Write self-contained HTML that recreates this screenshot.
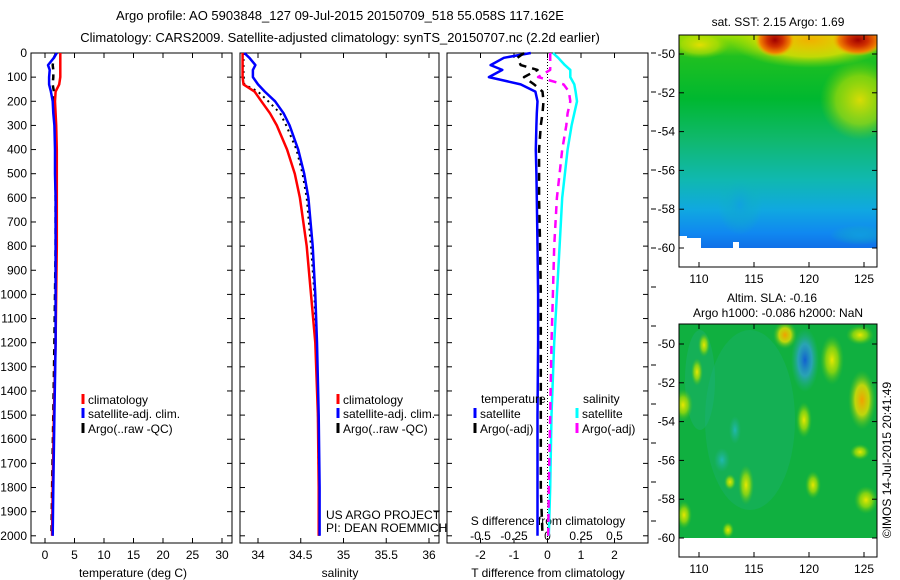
<!DOCTYPE html>
<html><head><meta charset="utf-8"><style>
body{margin:0;background:#fff}
svg{display:block;font-family:"Liberation Sans",sans-serif}
text{font-size:12px;fill:#000}
</style></head><body>
<svg id="c" width="900" height="580" viewBox="0 0 900 580" xmlns="http://www.w3.org/2000/svg">
<defs>
<linearGradient id="sstBase" x1="0" y1="0" x2="0" y2="1">
<stop offset="0" stop-color="#a0e000"/><stop offset="0.1" stop-color="#20c020"/><stop offset="0.3" stop-color="#00b830"/><stop offset="0.5" stop-color="#10b870"/><stop offset="0.68" stop-color="#10b8b0"/><stop offset="0.82" stop-color="#10a8e0"/><stop offset="0.93" stop-color="#1088f0"/><stop offset="1" stop-color="#1070e8"/></linearGradient>
<radialGradient id="hotA"><stop offset="0" stop-color="#a00000"/><stop offset="0.4" stop-color="#d03000"/><stop offset="0.75" stop-color="#f08000"/><stop offset="1" stop-color="#f0c000" stop-opacity="0"/></radialGradient>
<radialGradient id="yel"><stop offset="0" stop-color="#e8e800"/><stop offset="0.5" stop-color="#b0e000" stop-opacity="0.7"/><stop offset="1" stop-color="#40c020" stop-opacity="0"/></radialGradient>
<radialGradient id="org"><stop offset="0" stop-color="#f0a000"/><stop offset="0.5" stop-color="#e8e000" stop-opacity="0.8"/><stop offset="1" stop-color="#40c020" stop-opacity="0"/></radialGradient>
<radialGradient id="blu"><stop offset="0" stop-color="#1060d0"/><stop offset="0.5" stop-color="#30a0d0" stop-opacity="0.8"/><stop offset="1" stop-color="#20b090" stop-opacity="0"/></radialGradient>
<radialGradient id="teal"><stop offset="0" stop-color="#20b8b0"/><stop offset="1" stop-color="#20b090" stop-opacity="0"/></radialGradient>
<radialGradient id="cyanblob"><stop offset="0" stop-color="#10a0e0" stop-opacity="0.8"/><stop offset="1" stop-color="#10b8b0" stop-opacity="0"/></radialGradient>
<radialGradient id="yblob"><stop offset="0" stop-color="#f0e000" stop-opacity="0.9"/><stop offset="0.6" stop-color="#c0e000" stop-opacity="0.6"/><stop offset="1" stop-color="#80d000" stop-opacity="0"/></radialGradient>
<radialGradient id="oblob"><stop offset="0" stop-color="#f0b000"/><stop offset="0.6" stop-color="#e8e000" stop-opacity="0.8"/><stop offset="1" stop-color="#a0e000" stop-opacity="0"/></radialGradient>
<clipPath id="clipTop"><rect x="679" y="35" width="198" height="232"/></clipPath>
<clipPath id="clipBot"><rect x="679" y="324" width="198" height="233"/></clipPath>
</defs>
<text x="340" y="20" text-anchor="middle" style="font-size:13px">Argo profile: AO 5903848_127 09-Jul-2015 20150709_518 55.058S 117.162E</text>
<text x="340" y="42" text-anchor="middle" style="font-size:13px">Climatology: CARS2009. Satellite-adjusted climatology: synTS_20150707.nc (2.2d earlier)</text>

<g>
<g clip-path="url(#clipTop)">
<rect x="679" y="35" width="198" height="213" fill="url(#sstBase)"/>
<ellipse cx="860" cy="100" rx="40" ry="40" fill="url(#yblob)"/>
<ellipse cx="810" cy="40" rx="80" ry="28" fill="url(#oblob)"/>
<ellipse cx="775" cy="40" rx="20" ry="17" fill="url(#hotA)"/>
<ellipse cx="858" cy="40" rx="26" ry="16" fill="url(#hotA)"/>
<ellipse cx="700" cy="45" rx="30" ry="14" fill="url(#yblob)"/>
<ellipse cx="740" cy="205" rx="22" ry="30" fill="url(#cyanblob)"/>
<ellipse cx="860" cy="235" rx="30" ry="10" fill="url(#cyanblob)"/>
<rect x="679" y="248" width="198" height="19" fill="#fff"/>
<rect x="679" y="236" width="8" height="12" fill="#fff"/>
<rect x="687" y="238" width="14" height="10" fill="#fff"/>
<rect x="733" y="242" width="6" height="6" fill="#fff"/>
</g>
<rect x="679" y="35" width="198" height="232" fill="none" stroke="#000"/>
</g>
<text x="778" y="26" text-anchor="middle">sat. SST: 2.15 Argo: 1.69</text>

<g>
<g clip-path="url(#clipBot)">
<rect x="679" y="324" width="198" height="214" fill="#10b040"/>
<ellipse cx="750" cy="420" rx="45" ry="90" fill="#20b090" opacity="0.25"/>
<ellipse cx="700" cy="380" rx="15" ry="50" fill="#20b090" opacity="0.3"/>
<ellipse cx="735" cy="430" rx="6" ry="14" fill="url(#teal)"/>
<ellipse cx="722" cy="460" rx="8" ry="12" fill="url(#teal)"/>
<ellipse cx="805" cy="360" rx="14" ry="32" fill="url(#blu)"/>
<ellipse cx="785" cy="335" rx="12" ry="14" fill="url(#org)"/>
<ellipse cx="862" cy="400" rx="14" ry="30" fill="url(#org)"/>
<ellipse cx="832" cy="360" rx="12" ry="25" fill="url(#yel)"/>
<ellipse cx="860" cy="335" rx="14" ry="10" fill="url(#yel)"/>
<ellipse cx="683" cy="405" rx="10" ry="16" fill="url(#yel)"/>
<ellipse cx="697" cy="372" rx="6" ry="14" fill="url(#yel)"/>
<ellipse cx="704" cy="345" rx="6" ry="12" fill="url(#yel)"/>
<ellipse cx="804" cy="420" rx="8" ry="18" fill="url(#yel)"/>
<ellipse cx="746" cy="485" rx="8" ry="20" fill="url(#yel)"/>
<ellipse cx="730" cy="482" rx="6" ry="8" fill="url(#yel)"/>
<ellipse cx="813" cy="485" rx="8" ry="14" fill="url(#yel)"/>
<ellipse cx="866" cy="500" rx="12" ry="14" fill="url(#yel)"/>
<ellipse cx="860" cy="452" rx="10" ry="8" fill="url(#yel)"/>
<ellipse cx="684" cy="515" rx="8" ry="14" fill="url(#yel)"/>
<ellipse cx="728" cy="530" rx="6" ry="8" fill="url(#yel)"/>
<rect x="679" y="538" width="198" height="19" fill="#fff"/>
</g>
<rect x="679" y="324" width="198" height="233" fill="none" stroke="#000"/>
</g>
<text x="772" y="302" text-anchor="middle">Altim. SLA: -0.16</text>
<text x="778" y="317" text-anchor="middle">Argo h1000: -0.086 h2000: NaN</text>
<text transform="translate(891,460) rotate(-90)" text-anchor="middle">©IMOS 14-Jul-2015 20:41:49</text>

<text x="133" y="577" text-anchor="middle">temperature (deg C)</text>
<text x="340" y="577" text-anchor="middle">salinity</text>
<text x="548" y="577" text-anchor="middle">T difference from climatology</text>
<text x="548" y="525" text-anchor="middle">S difference from climatology</text>
<text x="326" y="519">US ARGO PROJECT</text>
<text x="326" y="532">PI: DEAN ROEMMICH</text>
</svg>
<script>
// ---- data ----
const depthTicks=[0,100,200,300,400,500,600,700,800,900,1000,1100,1200,1300,1400,1500,1600,1700,1800,1900,2000];
const tTicks=[0,5,10,15,20,25,30];
const sTicks=[34,34.5,35,35.5,36];
const sTickLabels=["34","34.5","35","35.5","36"];
const tdTicks=[-2,-1,0,1,2];
const sdTicks=[-0.5,-0.25,0,0.25,0.5];
const sdTickLabels=["-0.5","-0.25","0","0.25","0.5"];
const latTicks=[-50,-52,-54,-56,-58,-60];
const lonTicks=[110,115,120,125];

const depths=[0,20,50,70,100,130,160,200,250,300,400,500,600,800,1000,1200,1500,1800,2000];
const tClim=[2.6,2.6,2.6,2.6,2.6,2.4,1.8,1.7,1.8,1.9,2.0,2.0,2.0,2.0,1.9,1.8,1.5,1.3,1.2];
const tSat =[2.0,1.5,0.5,0.8,0.7,0.7,1.0,1.3,1.4,1.6,1.7,1.7,1.8,1.8,1.8,1.8,1.6,1.4,1.3];
const tArgo=[1.9,1.5,1.3,1.4,1.4,1.3,1.5,1.6,1.7,1.8,1.8,1.8,1.8,1.8,1.7,1.6,1.4,1.2,1.1];
const sClim=[33.82,33.82,33.82,33.82,33.82,33.83,33.96,34.04,34.14,34.22,34.34,34.43,34.49,34.57,34.62,34.67,34.7,34.71,34.71];
const sSat =[33.84,33.9,33.97,33.94,33.94,34.0,34.08,34.2,34.3,34.37,34.47,34.54,34.59,34.64,34.67,34.69,34.71,34.72,34.72];
const sArgo=[33.83,33.83,33.83,33.83,33.83,33.84,34.0,34.12,34.26,34.33,34.45,34.52,34.57,34.62,34.66,34.68,34.7,34.71,34.71];
const tdSat =[-0.5,-1.3,-1.7,-1.35,-1.75,-0.8,-0.36,-0.3,-0.32,-0.33,-0.35,-0.33,-0.32,-0.3,-0.28,-0.28,-0.3,-0.3,-0.3];
const tdArgo=[-0.7,-0.9,-0.8,-0.3,-0.7,-0.4,-0.15,-0.12,-0.15,-0.2,-0.25,-0.25,-0.25,-0.22,-0.2,-0.2,-0.2,-0.2,-0.15];
const sdSat =[0.04,0.08,0.13,0.17,0.17,0.2,0.21,0.22,0.2,0.18,0.15,0.13,0.11,0.09,0.07,0.05,0.03,0.02,0.01];
const sdArgo=[0.02,0.02,0.02,0.02,-0.07,0.12,0.16,0.17,0.15,0.14,0.11,0.09,0.07,0.05,0.04,0.03,0.02,0.01,0.005];

// ---- axes ----
const svg=document.getElementById('c');
const NS='http://www.w3.org/2000/svg';
const Y=d=>53+d*0.2414;
const xT=t=>45+t*5.9;
const xS=s=>258+(s-34)*85.5;
const xTD=v=>547.5+v*33.5;
const xSD=v=>547.5+v*134;
function el(tag,attrs,parent){const e=document.createElementNS(NS,tag);for(const k in attrs)e.setAttribute(k,attrs[k]);(parent||svg).appendChild(e);return e;}

const panels=[[31,232],[240,439],[447,648]];
panels.forEach((p,i)=>{
  const r=el('rect',{x:p[0],y:53,width:p[1]-p[0],height:490,fill:'none',stroke:'#000'});
  
  
  depthTicks.forEach(d=>{
    const t=el('line',{x1:p[0],x2:p[0]+5,y1:Y(d),y2:Y(d),stroke:'#000'});
    
    
    const t2=el('line',{x1:p[1],x2:p[1]-5,y1:Y(d),y2:Y(d),stroke:'#000'});
    
    
  });
});
depthTicks.forEach(d=>{
  const t=el('text',{x:27,y:Y(d)+4,'text-anchor':'end'});t.textContent=d;
  
  
});
for(let y=53;y<545;y+=39){const t=el('line',{x1:651,x2:656,y1:y,y2:y,stroke:'#000'});
  
  }
function xticks(vals,labels,fx,ly,tickTop){
  vals.forEach((v,i)=>{
    const x=fx(v);
    const a=el('line',{x1:x,x2:x,y1:543,y2:538,stroke:'#000'});
    
    
    if(tickTop){const b=el('line',{x1:x,x2:x,y1:53,y2:58,stroke:'#000'});
      
      }
    const t=el('text',{x:x,y:ly,'text-anchor':'middle'});t.textContent=labels[i];
    
    
  });
}
xticks(tTicks,tTicks.map(String),xT,559,true);
xticks(sTicks,sTickLabels,xS,559,true);
xticks(tdTicks,tdTicks.map(String),xTD,559,true);
sdTicks.forEach((v,i)=>{const t=el('text',{x:xSD(v),y:540,'text-anchor':'middle'});t.textContent=sdTickLabels[i];
  
  });
const z=el('line',{x1:xTD(0),x2:xTD(0),y1:53,y2:543,stroke:'#000','stroke-dasharray':'1,2'});



function series(vals,fx,color,w,dash,name){
  const pts=vals.map((v,i)=>fx(v).toFixed(1)+','+Y(depths[i]).toFixed(1)).join(' ');
  const a={points:pts,fill:'none',stroke:color,'stroke-width':w,'stroke-linejoin':'round'};
  if(dash)a['stroke-dasharray']=dash;
  const p=el('polyline',a);
  
  
}
series(tArgo,xT,'#000',2.5,'6,5','temp-argo-line');
series(tClim,xT,'#f00',2.5,null,'temp-climatology-line');
series(tSat,xT,'#00f',2.5,null,'temp-satellite-line');
series(sArgo,xS,'#000',2,'2,4','sal-argo-line');
series(sClim,xS,'#f00',2.5,null,'sal-climatology-line');
series(sSat,xS,'#00f',2.5,null,'sal-satellite-line');
series(sdSat,xSD,'#0ff',2.5,null,'sdiff-satellite-line');
series(sdArgo,xSD,'#f0f',2.5,'8,6','sdiff-argo-line');
series(tdSat,xTD,'#00f',2.5,null,'tdiff-satellite-line');
series(tdArgo,xTD,'#000',2.5,'8,6','tdiff-argo-line');

function legend(x,y,color,label,name){
  const l=el('line',{x1:x,x2:x,y1:y-10,y2:y,stroke:color,'stroke-width':3});
  
  
  const t=el('text',{x:x+5,y:y});t.textContent=label;
  
  
}
legend(83,404,'#f00','climatology','legend-climatology');
legend(83,418,'#00f','satellite-adj. clim.','legend-satellite');
legend(83,433,'#000','Argo(..raw -QC)','legend-argo');
legend(338,404,'#f00','climatology','legend-climatology-2');
legend(338,418,'#00f','satellite-adj. clim.','legend-satellite-2');
legend(338,433,'#000','Argo(..raw -QC)','legend-argo-2');
let tt=el('text',{x:481,y:403});tt.textContent='temperature';


tt=el('text',{x:583,y:403});tt.textContent='salinity';


legend(475,418,'#00f','satellite','legend-t-satellite');
legend(475,433,'#000','Argo(-adj)','legend-t-argo');
legend(577,418,'#0ff','satellite','legend-s-satellite');
legend(577,433,'#f0f','Argo(-adj)','legend-s-argo');

const lonX=l=>699+(l-110)*11;
[[35,-50,54,19.4],[324,-50,344,19.4]].forEach(m=>{
  const top=m[0];
  latTicks.forEach(lat=>{
    const y=m[2]+(m[1]-lat)*m[3];
    const a=el('line',{x1:679,x2:684,y1:y,y2:y,stroke:'#000'});
    
    
    const b=el('line',{x1:877,x2:872,y1:y,y2:y,stroke:'#000'});
    
    
    const t=el('text',{x:675,y:y+4,'text-anchor':'end'});t.textContent=lat;
    
    
  });
  const bottom=top===35?267:557;
  lonTicks.forEach(lon=>{
    const x=lonX(lon);
    const a=el('line',{x1:x,x2:x,y1:bottom,y2:bottom-5,stroke:'#000'});
    
    
    const b=el('line',{x1:x,x2:x,y1:top,y2:top+5,stroke:'#000'});
    
    
    const t=el('text',{x:x,y:bottom+16,'text-anchor':'middle'});t.textContent=lon;
    
    
  });
});
</script>
</body></html>
